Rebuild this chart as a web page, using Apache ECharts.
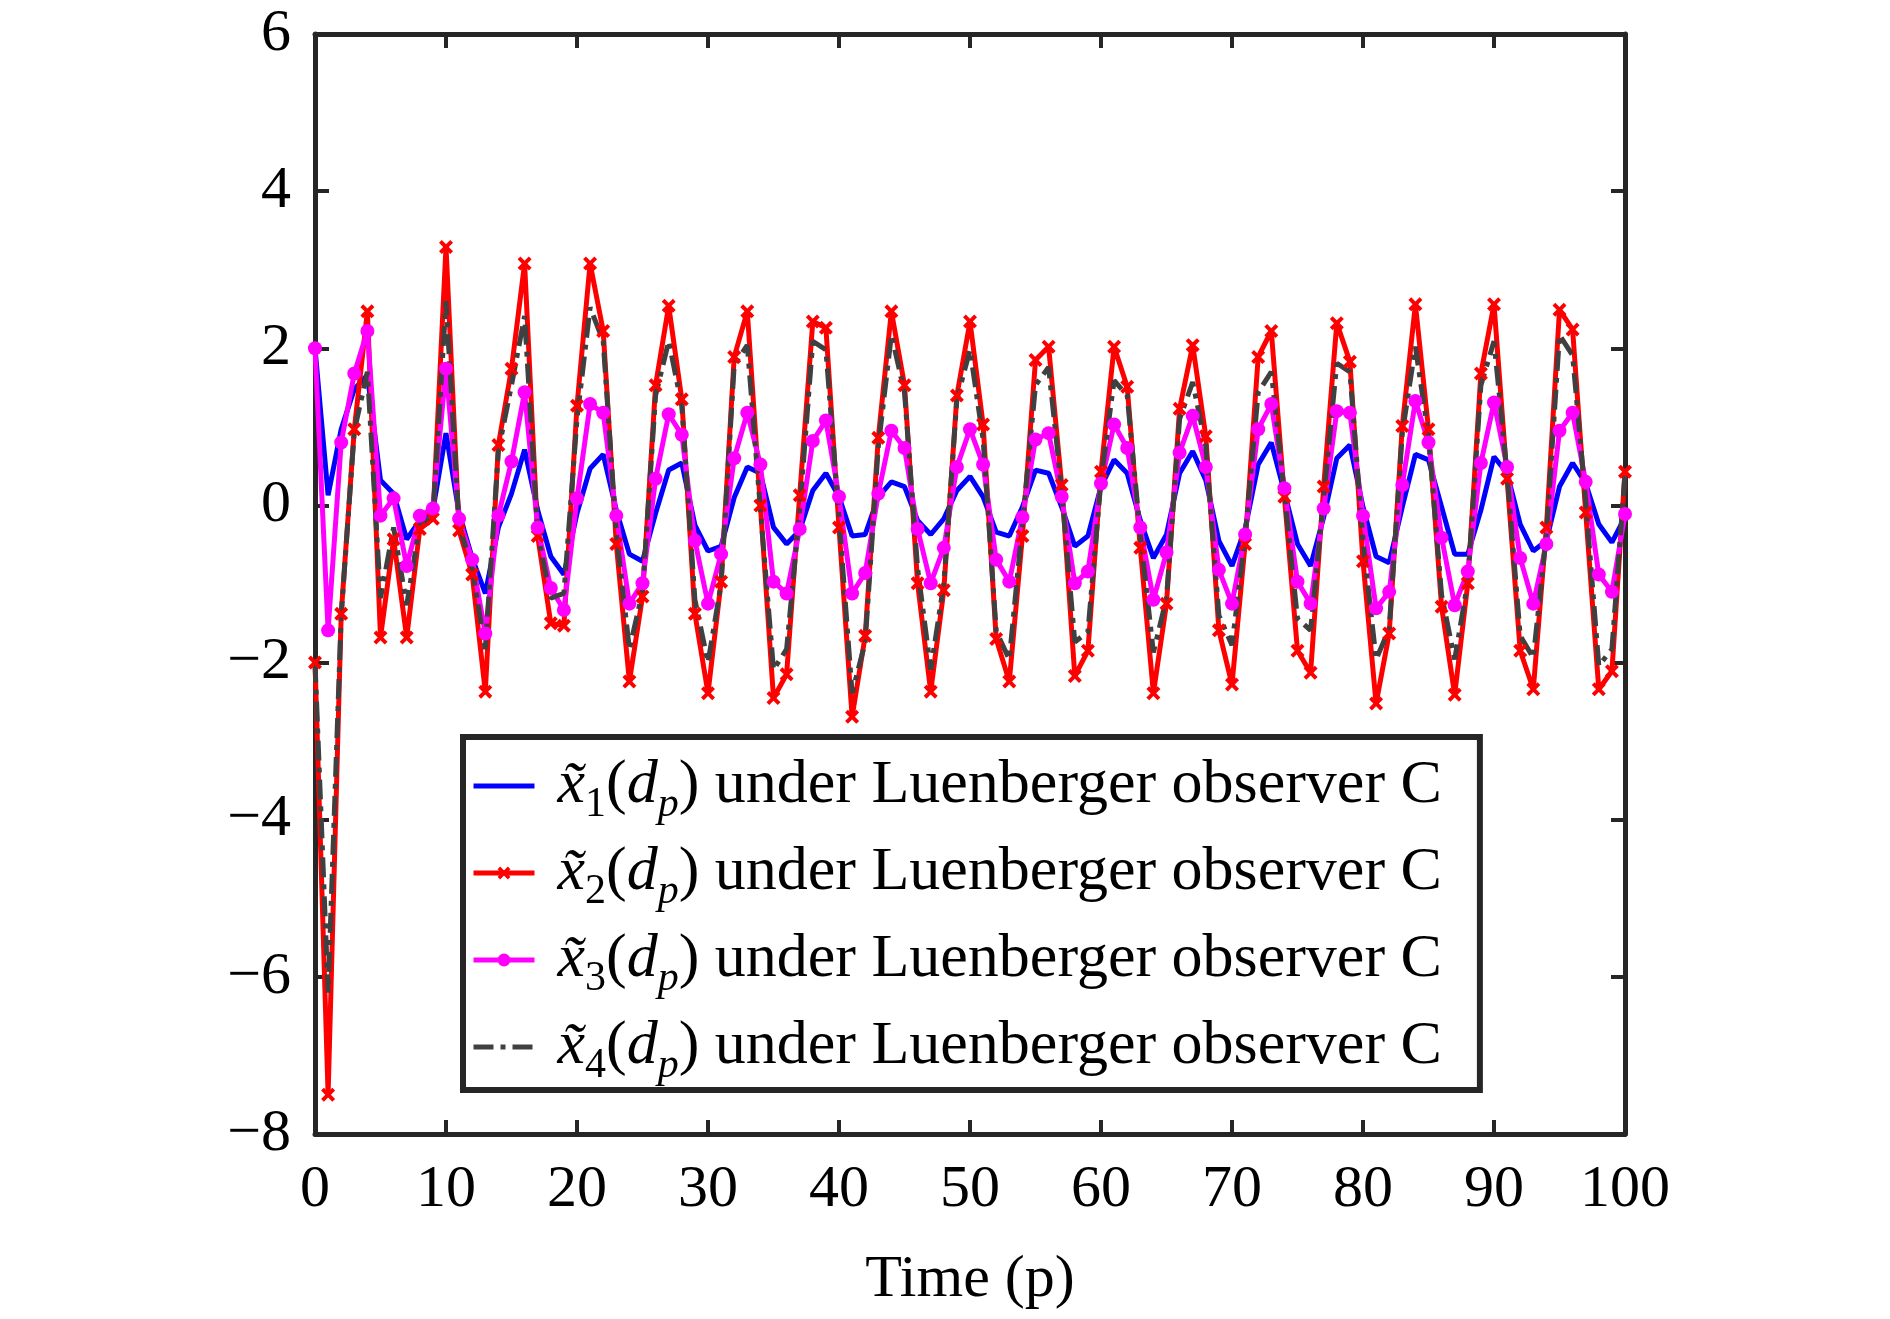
<!DOCTYPE html>
<html>
<head>
<meta charset="utf-8">
<title>Luenberger observer C</title>
<script src="https://cdn.jsdelivr.net/npm/echarts@6/dist/echarts.min.js"></script>
<style>
  html, body { margin: 0; padding: 0; background: #fff; }
  #main { width: 1890px; height: 1319px; }
</style>
</head>
<body>
<div id="main"></div>
<script>
// time steps p = 0..100
var steps = [];
for (var i = 0; i <= 100; i++) steps.push(i);

var xTicks = [0, 10, 20, 30, 40, 50, 60, 70, 80, 90, 100];
var yTicks = [-8, -6, -4, -2, 0, 2, 4, 6];

var legendNames = [
  'x1(dp) under Luenberger observer C',
  'x2(dp) under Luenberger observer C',
  'x3(dp) under Luenberger observer C',
  'x4(dp) under Luenberger observer C'
];

// x~1 (blue)
var x1 = [2.0, 0.13, 0.97, 1.48, 1.66, 0.32, 0.15, -0.43, -0.19, -0.06,
  0.92, -0.1, -0.67, -1.12, -0.28, 0.15, 0.71, -0.06, -0.65, -0.88,
  -0.1, 0.47, 0.65, -0.06, -0.62, -0.71, -0.1, 0.45, 0.54, -0.25,
  -0.58, -0.52, 0.1, 0.49, 0.41, -0.28, -0.49, -0.32, 0.19, 0.41,
  0.11, -0.39, -0.37, 0.11, 0.3, 0.24, -0.19, -0.37, -0.17, 0.19,
  0.37, 0.11, -0.34, -0.39, -0.02, 0.45, 0.41, -0.02, -0.52, -0.39,
  0.24, 0.58, 0.41, -0.19, -0.67, -0.37, 0.41, 0.69, 0.32, -0.45,
  -0.77, -0.3, 0.52, 0.8, 0.17, -0.49, -0.77, -0.15, 0.6, 0.77,
  -0.02, -0.65, -0.73, -0.02, 0.65, 0.58, -0.02, -0.62, -0.62, -0.06,
  0.62, 0.41, -0.24, -0.58, -0.45, 0.24, 0.54, 0.28, -0.24, -0.47,
  -0.15];

// x~2 (red, x markers)
var x2 = [-2.0, -7.5, -1.38, 0.97, 2.47, -1.68, -0.43, -1.68, -0.3, -0.17,
  3.29, -0.32, -0.88, -2.37, 0.77, 1.74, 3.08, -0.39, -1.5, -1.53,
  1.27, 3.08, 2.22, -0.49, -2.24, -1.16, 1.53, 2.54, 1.35, -1.38,
  -2.39, -0.97, 1.89, 2.47, 0.0, -2.45, -2.15, 0.13, 2.34, 2.26,
  -0.28, -2.69, -1.66, 0.86, 2.47, 1.53, -0.99, -2.37, -1.08, 1.4,
  2.34, 1.03, -1.7, -2.24, -0.39, 1.85, 2.02, 0.26, -2.17, -1.85,
  0.43, 2.02, 1.51, -0.54, -2.39, -1.25, 1.23, 2.04, 0.88, -1.59,
  -2.28, -0.49, 1.89, 2.22, 0.11, -1.85, -2.13, 0.24, 2.32, 1.83,
  -0.71, -2.52, -1.63, 1.01, 2.56, 0.97, -1.29, -2.41, -0.99, 1.68,
  2.56, 0.34, -1.85, -2.34, -0.28, 2.49, 2.24, -0.09, -2.34, -2.11,
  0.43];

// x~3 (magenta, dots)
var x3 = [2.0, -1.59, 0.8, 1.68, 2.22, -0.13, 0.09, -0.77, -0.13, -0.04,
  1.74, -0.17, -0.69, -1.63, -0.13, 0.56, 1.44, -0.28, -1.05, -1.33,
  0.09, 1.29, 1.18, -0.13, -1.25, -0.99, 0.34, 1.16, 0.9, -0.45,
  -1.25, -0.62, 0.6, 1.18, 0.52, -0.97, -1.12, -0.3, 0.82, 1.08,
  0.11, -1.12, -0.86, 0.15, 0.95, 0.73, -0.3, -0.99, -0.54, 0.49,
  0.97, 0.52, -0.69, -0.97, -0.15, 0.84, 0.92, 0.11, -0.99, -0.84,
  0.28, 1.03, 0.73, -0.28, -1.2, -0.6, 0.67, 1.14, 0.49, -0.82,
  -1.25, -0.37, 0.97, 1.29, 0.22, -0.97, -1.25, -0.04, 1.2, 1.18,
  -0.13, -1.31, -1.1, 0.26, 1.33, 0.8, -0.41, -1.27, -0.84, 0.54,
  1.31, 0.49, -0.67, -1.25, -0.49, 0.95, 1.18, 0.3, -0.88, -1.1,
  -0.11];

// x~4 (dark grey, dash-dot)
var x4 = [-2.0, -6.2, -1.4, 0.95, 1.7, -1.18, -0.28, -1.27, -0.24, -0.15,
  2.6, -0.25, -0.8, -1.83, 0.7, 1.53, 2.41, -0.35, -1.18, -1.12,
  1.1, 2.52, 2.09, -0.35, -1.83, -1.1, 1.4, 2.09, 1.27, -1.2,
  -2.0, -1.0, 1.79, 2.04, -0.05, -2.09, -1.83, -0.06, 2.09, 1.98,
  -0.15, -2.39, -1.74, 0.75, 2.17, 1.44, -0.8, -2.09, -1.0, 1.35,
  1.98, 0.84, -1.6, -1.96, -0.24, 1.53, 1.76, 0.19, -1.74, -1.61,
  0.32, 1.59, 1.4, -0.37, -1.87, -1.18, 1.1, 1.57, 0.75, -1.4,
  -1.78, -0.4, 1.44, 1.7, 0.15, -1.44, -1.59, 0.1, 1.81, 1.7,
  -0.45, -1.96, -1.57, 0.92, 2.02, 0.88, -1.14, -1.96, -0.97, 1.53,
  2.09, 0.4, -1.66, -1.94, -0.37, 2.17, 1.91, 0.06, -2.04, -1.83,
  0.4];

function pairs(vals) {
  return steps.map(function (t, k) { return [t, vals[k]]; });
}

var FONT = '"Liberation Serif", "Times New Roman", serif';
var AXIS_COLOR = '#262626';
var crossPath = 'path://M2,0 L5,3 L8,0 L10,2 L7,5 L10,8 L8,10 L5,7 L2,10 L0,8 L3,5 L0,2 Z';

var chart = echarts.init(document.getElementById('main'), null, { renderer: 'canvas' });

function minusFmt(v) {
  return v < 0 ? '\u2212' + Math.abs(v) : String(v);
}

var axisCommon = {
  axisLine: { show: true, onZero: false, lineStyle: { color: AXIS_COLOR, width: 5 } },
  axisTick: { show: true, inside: true, length: 14, lineStyle: { color: AXIS_COLOR, width: 4 } },
  splitLine: { show: false }
};

var option = {
  animation: false,
  backgroundColor: '#fff',
  grid: { left: 315, right: 265, top: 34, bottom: 185 },
  xAxis: [
    Object.assign({
      type: 'value',
      min: xTicks[0],
      max: xTicks[xTicks.length - 1],
      interval: 10,
      position: 'bottom',
      name: 'Time (p)',
      nameLocation: 'middle',
      nameGap: 116,
      nameTextStyle: { fontFamily: FONT, fontSize: 60, color: '#000' },
      axisLabel: { fontFamily: FONT, fontSize: 60, color: '#000', margin: 26 }
    }, axisCommon),
    Object.assign({
      type: 'value',
      min: xTicks[0],
      max: xTicks[xTicks.length - 1],
      interval: 10,
      position: 'top',
      axisLabel: { show: false }
    }, axisCommon)
  ],
  yAxis: [
    Object.assign({
      type: 'value',
      min: yTicks[0],
      max: yTicks[yTicks.length - 1],
      interval: 2,
      position: 'left',
      axisLabel: { fontFamily: FONT, fontSize: 60, color: '#000', margin: 24, formatter: minusFmt }
    }, axisCommon),
    Object.assign({
      type: 'value',
      min: yTicks[0],
      max: yTicks[yTicks.length - 1],
      interval: 2,
      position: 'right',
      axisLabel: { show: false }
    }, axisCommon)
  ],
  legend: {
    orient: 'vertical',
    left: 463,
    top: 737,
    padding: [18, 38, 3, 8],
    itemGap: 16,
    itemWidth: 61,
    itemHeight: 16,
    backgroundColor: '#fff',
    borderColor: AXIS_COLOR,
    borderWidth: 6,
    borderRadius: 0,
    lineStyle: { width: 5 },
    data: [
      { name: legendNames[0], itemStyle: { opacity: 0 } },
      { name: legendNames[1] },
      { name: legendNames[2] },
      { name: legendNames[3], itemStyle: { opacity: 0 } }
    ],
    formatter: function (name) {
      var k = legendNames.indexOf(name) + 1;
      return '{x|x\u0303}{s|' + k + '}{n|(}{d|d}{sp|p}{n|) under Luenberger observer C}';
    },
    textStyle: {
      fontFamily: FONT,
      fontSize: 62,
      color: '#000',
      rich: {
        n: { fontFamily: FONT, fontSize: 62, color: '#000', lineHeight: 80 },
        x: { fontFamily: FONT, fontSize: 62, fontStyle: 'italic', color: '#000', lineHeight: 80, padding: [0, 0, 0, 18] },
        d: { fontFamily: FONT, fontSize: 62, fontStyle: 'italic', color: '#000', lineHeight: 80 },
        s: { fontFamily: FONT, fontSize: 42, color: '#000', lineHeight: 40, verticalAlign: 'bottom' },
        sp: { fontFamily: FONT, fontSize: 42, fontStyle: 'italic', color: '#000', lineHeight: 36, verticalAlign: 'bottom' }
      }
    }
  },
  series: [
    {
      name: legendNames[0],
      type: 'line',
      data: pairs(x1),
      symbol: 'none',
      lineStyle: { color: '#0000ff', width: 5 },
      itemStyle: { color: '#0000ff' }
    },
    {
      name: legendNames[1],
      type: 'line',
      data: pairs(x2),
      symbol: crossPath,
      symbolSize: 14,
      lineStyle: { color: '#ff0000', width: 5 },
      itemStyle: { color: '#ff0000' }
    },
    {
      name: legendNames[2],
      type: 'line',
      data: pairs(x3),
      symbol: 'circle',
      symbolSize: 14,
      lineStyle: { color: '#ff00ff', width: 5 },
      itemStyle: { color: '#ff00ff' }
    },
    {
      name: legendNames[3],
      type: 'line',
      data: pairs(x4),
      symbol: 'none',
      lineStyle: { color: '#404040', width: 5, type: [20, 7, 5, 7] },
      itemStyle: { color: '#404040' }
    }
  ]
};

chart.setOption(option);
</script>
</body>
</html>
